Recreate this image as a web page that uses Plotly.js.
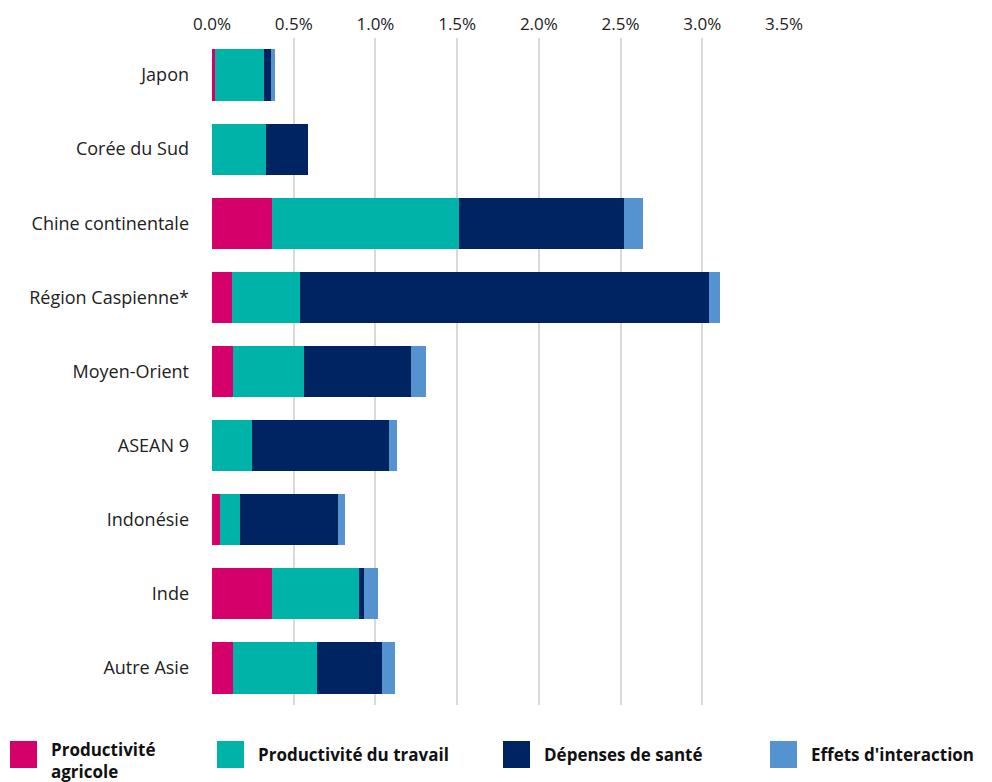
<!DOCTYPE html>
<html>
<head>
<meta charset="utf-8">
<script src="https://cdn.plot.ly/plotly-3.0.1.min.js"></script>
<style>
html,body{margin:0;padding:0;background:#fff;}
#chart{width:992px;height:782px;}
</style>
</head>
<body>
<div id="chart"></div>
<script>
// Data (values in %)
const categories = ["Japon","Corée du Sud","Chine continentale","Région Caspienne*","Moyen-Orient","ASEAN 9","Indonésie","Inde","Autre Asie"];
const productiviteAgricole = [0.02, 0.00, 0.37, 0.12, 0.13, 0.00, 0.05, 0.37, 0.13];
const productiviteTravail  = [0.30, 0.33, 1.14, 0.42, 0.43, 0.245, 0.12, 0.53, 0.51];
const depensesSante        = [0.04, 0.26, 1.01, 2.50, 0.66, 0.84, 0.60, 0.03, 0.40];
const effetsInteraction    = [0.025, 0.00, 0.12, 0.07, 0.09, 0.05, 0.045, 0.085, 0.08];
const seriesNames = ["Productivité<br>agricole","Productivité du travail","Dépenses de santé","Effets d'interaction"];
const seriesColors = ["#D6006B","#00B3A9","#002361","#5592D0"];
const tickVals = [0,0.5,1,1.5,2,2.5,3,3.5];
const tickText = tickVals.map(v=>v.toFixed(1)+'%');

const seriesValues = [productiviteAgricole, productiviteTravail, depensesSante, effetsInteraction];
const traces = seriesValues.map((vals,i)=>({
  type:'bar', orientation:'h',
  x: vals, y: categories,
  name: seriesNames[i],
  marker:{color: seriesColors[i], line:{width:0}},
  showlegend:false
}));

const font = "'Open Sans', sans-serif";

// custom legend (paper coordinates relative to plot area)
const W = 992, H = 782, mL = 212, mR = 208, mT = 38, mB = 77;
const pw = W - mL - mR, ph = H - mT - mB;
const px = x => (x - mL) / pw;
const py = y => (H - mB - y) / ph;
const legendX = [10, 217, 503, 770];
const shapes = [], annotations = [];
legendX.forEach((lx,i)=>{
  shapes.push({type:'rect', xref:'paper', yref:'paper',
    x0:px(lx), x1:px(lx+27), y0:py(768), y1:py(741),
    fillcolor:seriesColors[i], line:{width:0}});
  const twoLine = seriesNames[i].indexOf('<br>') >= 0;
  annotations.push({xref:'paper', yref:'paper', x:px(lx+40), y:py(twoLine ? 760 : 754.5),
    xanchor:'left', yanchor:'middle', align:'left', showarrow:false,
    borderpad:0,
    text:'<b>'+seriesNames[i]+'</b>',
    font:{family:font, size:17, color:'#111'}});
});

const layout = {
  width:W, height:H,
  margin:{l:mL, r:mR, t:mT, b:mB, pad:0},
  barmode:'stack',
  bargap:0.31,
  paper_bgcolor:'#fff', plot_bgcolor:'#fff',
  font:{family:font, size:17, color:'#222'},
  xaxis:{
    side:'top', range:[0,3.5], tickmode:'array', tickvals:tickVals, ticktext:tickText,
    showgrid:true, gridcolor:'#d9d9d9', gridwidth:2,
    zeroline:false, showline:false, ticks:'',
    ticklabelstandoff:4,
    tickfont:{family:font, size:17, color:'#222'},
    fixedrange:true
  },
  yaxis:{
    autorange:'reversed', type:'category',
    showgrid:false, zeroline:false, showline:false, ticks:'',
    ticklabelstandoff:22,
    tickfont:{family:font, size:18, color:'#222'},
    fixedrange:true
  },
  showlegend:false,
  shapes:shapes,
  annotations:annotations
};

Plotly.newPlot('chart', traces, layout, {displayModeBar:false, staticPlot:true});
</script>
</body>
</html>
